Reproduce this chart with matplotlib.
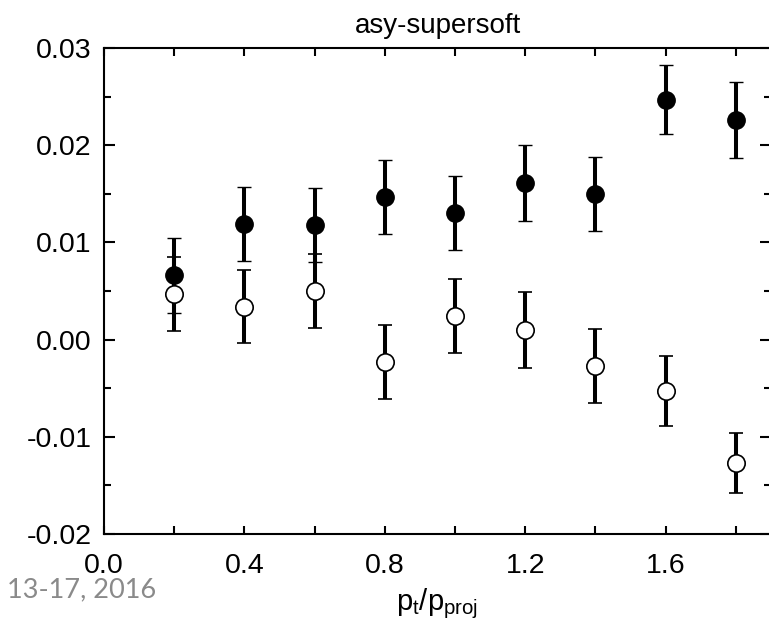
import matplotlib
matplotlib.use("Agg")
import matplotlib.pyplot as plt
from matplotlib.ticker import FixedLocator, MultipleLocator

# ---- data ----
x_vals = [0.2, 0.4, 0.6, 0.8, 1.0, 1.2, 1.4, 1.6, 1.8]
filled_y = [0.0066, 0.0119, 0.0118, 0.0147, 0.0130, 0.0161, 0.0150, 0.0247, 0.0226]
filled_err = [0.0039, 0.0038, 0.0038, 0.0038, 0.0038, 0.0039, 0.0038, 0.0035, 0.0039]
open_y = [0.0047, 0.0034, 0.0050, -0.0023, 0.0024, 0.0010, -0.0027, -0.0053, -0.0127]
open_err = [0.0038, 0.0038, 0.0038, 0.0038, 0.0038, 0.0039, 0.0038, 0.0036, 0.0031]

x_ticks = [0.0, 0.4, 0.8, 1.2, 1.6]
x_ticklabels = ["0.0", "0.4", "0.8", "1.2", "1.6"]
y_ticks = [-0.02, -0.01, 0.00, 0.01, 0.02, 0.03]
y_ticklabels = ["-0.02", "-0.01", "0.00", "0.01", "0.02", "0.03"]

title_text = "asy-supersoft"
xlabel_text = r"$\mathregular{p_t/p_{proj}}$"
footer_text = "13-17, 2016"

plt.rcParams['font.family'] = ['Liberation Sans', 'DejaVu Sans']
plt.rcParams['mathtext.fontset'] = 'custom'
plt.rcParams['mathtext.rm'] = 'Liberation Sans'
plt.rcParams['mathtext.it'] = 'Liberation Sans'

fig = plt.figure(figsize=(7.69, 6.26), dpi=100)
ax = fig.add_axes([104/769, (626-534)/626, (771-104)/769, (534-48)/626])

common = dict(fmt='o', ecolor='black', elinewidth=2.9, capsize=5.0, capthick=2.2,
              markersize=12.5, zorder=3)
ax.errorbar(x_vals, filled_y, yerr=filled_err, mfc='black', mec='black', mew=1.0, **common)
ax.errorbar(x_vals, open_y, yerr=open_err, mfc='white', mec='black', mew=1.2, **common)

ax.set_xlim(0.0, 1.9)
ax.set_ylim(-0.02, 0.03)

ax.xaxis.set_major_locator(FixedLocator(x_ticks))
ax.set_xticklabels(x_ticklabels)
ax.xaxis.set_minor_locator(MultipleLocator(0.2))
ax.yaxis.set_major_locator(FixedLocator(y_ticks))
ax.set_yticklabels(y_ticklabels)
ax.yaxis.set_minor_locator(MultipleLocator(0.005))

ax.tick_params(which='both', direction='in', top=True, right=True, width=1.5, colors='black')
ax.tick_params(axis='y', which='major', length=8, pad=9, labelsize=20.5)
ax.tick_params(axis='y', which='minor', length=5)
ax.tick_params(axis='x', which='major', length=6, pad=14, labelsize=20.5)
ax.tick_params(axis='x', which='minor', length=6)

for sp in ax.spines.values():
    sp.set_linewidth(1.5)

ax.set_title(title_text, fontsize=20, pad=11)
ax.set_xlabel(xlabel_text, fontsize=21, labelpad=5)

fig.text(7/769, 1 - 597/626, footer_text, fontsize=19.5, color='#8a8a8a',
         family=['Lato', 'DejaVu Sans'], ha='left', va='baseline')

fig.savefig("out.png", dpi=100)
